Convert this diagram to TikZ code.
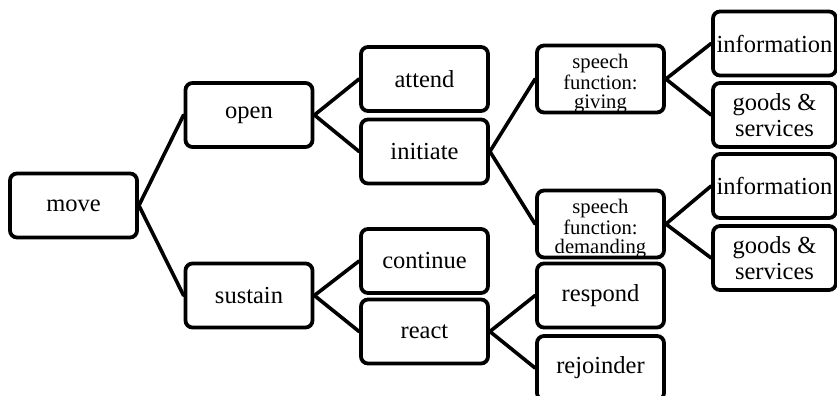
\documentclass[tikz,border=0pt]{standalone}
\usepackage{fontspec}
\setmainfont{Liberation Serif}
\begin{document}
\begin{tikzpicture}[x=0.5pt,y=-0.5pt,
  box/.style={draw, line width=1.9pt, rounded corners=3.5pt, minimum width=63.5pt, minimum height=32pt, inner sep=0pt, align=center, font=\fontsize{12.25}{13}\selectfont},
  infobox/.style={box, minimum width=61.5pt},
  small/.style={font=\fontsize{10.3}{9.3}\selectfont},
  link/.style={line width=1.8pt, line cap=round}]
\useasboundingbox (0,0) rectangle (837,396);
\clip (0,0) rectangle (837,396);
\node[box] (move) at (73.5,205.5) {move};
\node[box] (open) at (249,115) {open};
\node[box] (sustain) at (249,295.5) {sustain};
\node[box] (attend) at (424.5,79) {attend};
\node[box] (initiate) at (424.5,151.5) {initiate};
\node[box] (continue) at (424.5,261) {continue};
\node[box] (react) at (424.5,331.5) {react};
\node[box, small] (giving) at (600.5,79) {\rule{0pt}{11.5pt}speech\\function:\\giving};
\node[box, small] (demanding) at (600.5,224) {\rule{0pt}{11.5pt}speech\\function:\\demanding};
\node[box] (respond) at (600.5,295.5) {respond};
\node[box] (rejoinder) at (600.5,368) {rejoinder};
\node[infobox] (info1) at (774.5,43.5) {information};
\node[infobox] (goods1) at (774.5,115) {goods \&\\services};
\node[infobox] (info2) at (774.5,186) {information};
\node[infobox] (goods2) at (774.5,258) {goods \&\\services};
\draw[link] (move.east) -- (open.west);
\draw[link] (move.east) -- (sustain.west);
\draw[link] (open.east) -- (attend.west);
\draw[link] (open.east) -- (initiate.west);
\draw[link] (sustain.east) -- (continue.west);
\draw[link] (sustain.east) -- (react.west);
\draw[link] (initiate.east) -- (giving.west);
\draw[link] (initiate.east) -- (demanding.west);
\draw[link] (react.east) -- (respond.west);
\draw[link] (react.east) -- (rejoinder.west);
\draw[link] (giving.east) -- (info1.west);
\draw[link] (giving.east) -- (goods1.west);
\draw[link] (demanding.east) -- (info2.west);
\draw[link] (demanding.east) -- (goods2.west);
\end{tikzpicture}
\end{document}
